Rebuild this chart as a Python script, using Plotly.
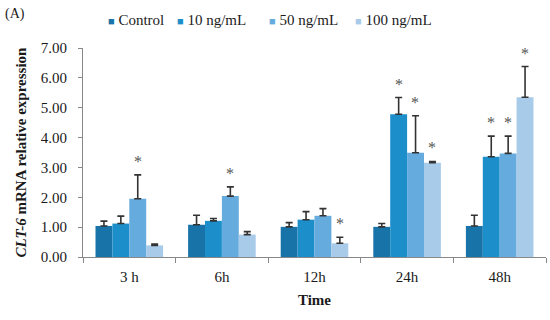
import plotly.graph_objects as go

times = ["3 h", "6h", "12h", "24h", "48h"]
series_names = ["Control", "10 ng/mL", "50 ng/mL", "100 ng/mL"]
control = [1.04, 1.08, 1.01, 1.01, 1.04]
ng10 = [1.12, 1.21, 1.25, 4.78, 3.36]
ng50 = [1.95, 2.04, 1.38, 3.49, 3.47]
ng100 = [0.39, 0.75, 0.46, 3.16, 5.35]
control_err = [0.16, 0.32, 0.14, 0.11, 0.36]
ng10_err = [0.25, 0.08, 0.27, 0.56, 0.69]
ng50_err = [0.80, 0.31, 0.24, 1.24, 0.58]
ng100_err = [0.04, 0.10, 0.20, 0.04, 1.03]
# significance markers (1 = asterisk)
control_sig = [0, 0, 0, 0, 0]
ng10_sig = [0, 0, 0, 1, 1]
ng50_sig = [1, 1, 0, 1, 1]
ng100_sig = [0, 0, 1, 1, 1]

values = [control, ng10, ng50, ng100]
errors = [control_err, ng10_err, ng50_err, ng100_err]
sigs = [control_sig, ng10_sig, ng50_sig, ng100_sig]
colors = ["#1873A8", "#1C8FCB", "#66ABDE", "#A9CBEA"]

FONT = "Liberation Serif, Times New Roman, serif"
TXT = "#1a1a1a"
fig = go.Figure()
for name, v, e, c in zip(series_names, values, errors, colors):
    fig.add_trace(go.Bar(
        x=times, y=v, name=name, marker=dict(color=c, line=dict(width=0)),
        error_y=dict(type="data", array=e, arrayminus=[0]*len(e), symmetric=False,
                     color="#333333", thickness=1.6, width=3.5),
    ))

# asterisks above error bars
bar_px = 16.7
offsets = [-1.5, -0.5, 0.5, 1.5]
for v, e, s, off in zip(values, errors, sigs, offsets):
    for t, val, err, sig in zip(times, v, e, s):
        if sig:
            fig.add_annotation(x=t, y=val + err, text="*", showarrow=False,
                               xshift=off * bar_px, yshift=3, yanchor="bottom",
                               font=dict(family=FONT, size=16, color="#555555"))

# legend drawn as text entries
legend_x = [0.050, 0.199, 0.397, 0.583]
for name, c, lx in zip(series_names, colors, legend_x):
    fig.add_annotation(text=f"<span style='color:{c};font-size:11px'>■</span> {name}",
                       xref="paper", yref="paper", x=lx, y=1.134, xanchor="left",
                       yanchor="middle", showarrow=False,
                       font=dict(family=FONT, size=15, color=TXT))

fig.add_annotation(text="(A)", xref="paper", yref="paper", x=-0.172, y=1.165,
                   xanchor="left", yanchor="middle", showarrow=False,
                   font=dict(family=FONT, size=14, color=TXT))

fig.update_layout(
    width=550, height=320,
    margin=dict(l=83, r=4, t=48, b=63),
    paper_bgcolor="white", plot_bgcolor="white",
    barmode="group", bargap=0.27, bargroupgap=0,
    font=dict(family=FONT, size=15, color=TXT),
    showlegend=False,
    xaxis=dict(showline=True, linecolor="#888888", linewidth=1, ticks="outside",
               tickson="boundaries", ticklen=5, tickcolor="#888888", ticklabelstandoff=6,
               tickfont=dict(family=FONT, size=15, color=TXT),
               title=dict(text="<b>Time</b>", font=dict(family=FONT, size=15, color=TXT), standoff=10)),
    yaxis=dict(range=[0, 7], dtick=1, tickformat=".2f", showline=True, linecolor="#888888",
               linewidth=1, ticks="outside", ticklen=4, tickcolor="#888888", showgrid=False,
               ticklabelstandoff=8,
               zeroline=False, tickfont=dict(family=FONT, size=15, color=TXT),
               title=dict(text="<b><i>CLT-6</i> mRNA relative expression</b>",
                          font=dict(family=FONT, size=15, color=TXT), standoff=10)),
)
fig.write_html("out.html", config={"displayModeBar": False},
               post_script="document.body.style.margin='0';")
